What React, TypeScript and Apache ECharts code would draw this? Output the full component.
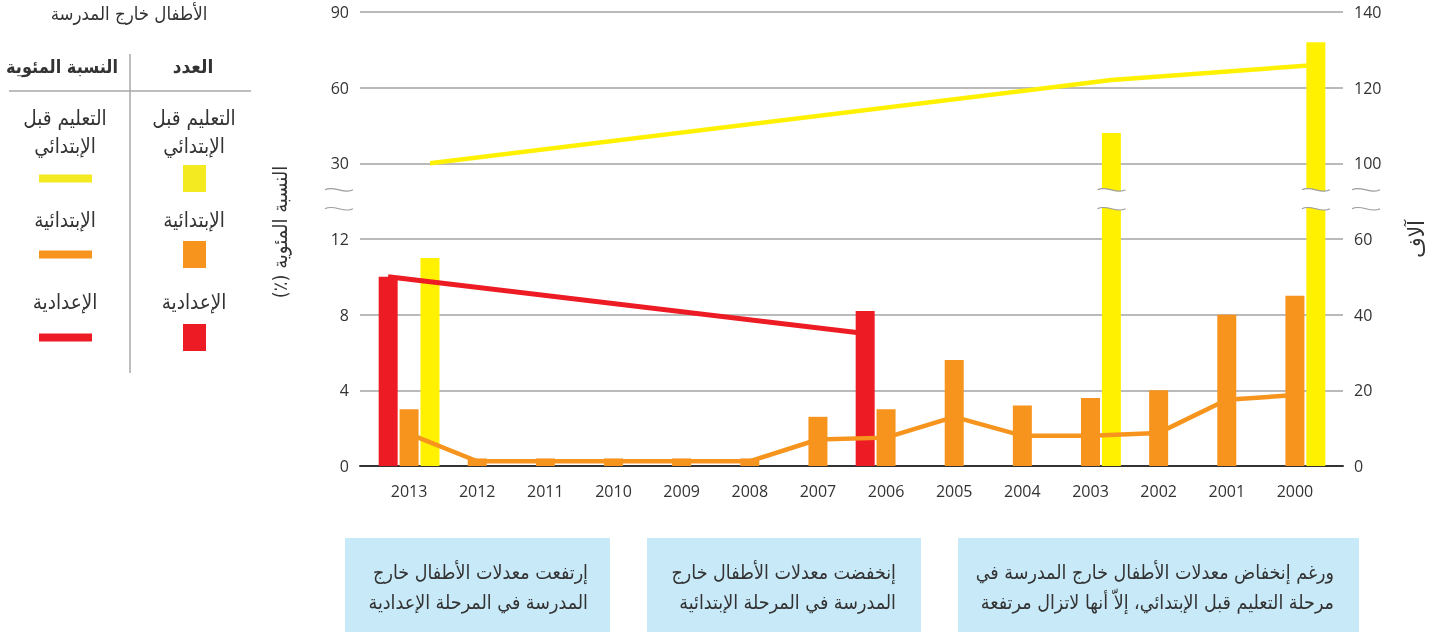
import React, { useEffect, useRef } from "react";
import * as echarts from "echarts";

// ---------- data ----------
const years = ["2013", "2012", "2011", "2010", "2009", "2008", "2007", "2006", "2005", "2004", "2003", "2002", "2001", "2000"];

// counts, thousands (bars, right axis)
const secondaryCount = [50, null, null, null, null, null, null, 41, null, null, null, null, null, null];
const primaryCount = [15, 2, 2, 2, 2, 2, 13, 15, 28, 16, 18, 20, 40, 45];
const prePrimaryCount = [55, null, null, null, null, null, null, null, null, null, 108, null, null, 132];

// rates, percent (lines, left axis)
const secondaryPct = [10, null, null, null, null, null, null, 7, null, null, null, null, null, null];
const primaryPct = [1.7, 0.25, 0.25, 0.25, 0.25, 0.25, 1.4, 1.5, 2.6, 1.6, 1.6, 1.75, 3.5, 3.75];
const prePrimaryPct = [30, null, null, null, null, null, null, null, null, null, 63, null, null, 69];

// tick labels for the broken axes
const leftTickLabels = ["0", "4", "8", "12", "30", "60", "90"];
const rightTickLabels = ["0", "20", "40", "60", "100", "120", "140"];

// texts
const legendTitle = "الأطفال خارج المدرسة";
const headerCount = "العدد";
const headerPct = "النسبة المئوية";
const levelNames = [["التعليم قبل", "الإبتدائي"], ["الإبتدائية"], ["الإعدادية"]];
const leftAxisName = "النسبة المئوية (٪)\u200F";
const rightAxisName = "آلاف";
const notes = [
  ["إرتفعت معدلات الأطفال خارج", "المدرسة في المرحلة الإعدادية"],
  ["إنخفضت معدلات الأطفال خارج", "المدرسة في المرحلة الإبتدائية"],
  ["ورغم إنخفاض معدلات الأطفال خارج المدرسة في", "مرحلة التعليم قبل الإبتدائي، إلاّ أنها لاتزال مرتفعة"],
];

// ---------- styles ----------
const RED = "#ED1C24";
const ORANGE = "#F7941E";
const YELLOW = "#FFF100";
const LEG_YELLOW = "#F4EA22";
const TEXT = "#333333";
const GRID = "#A3A3A3";
const BOX = "#C8E9F8";
const AR_FONT = "DejaVu Sans Condensed, DejaVu Sans, sans-serif";
const NUM_FONT = "Open Sans, Noto Sans, sans-serif";
const SLOT = 0.308; // bar slot offset in category units
const BREAK_TOP = 3.65;
const BREAK_BOTTOM = 3.4;

// piecewise mapping of the broken axes onto a 0..6 visual scale
const pctToVis = (v: number | null) => (v == null ? null : v <= 12 ? v / 4 : 4 + (v - 30) / 30);
const thouToVis = (v: number | null) => (v == null ? null : v <= 60 ? v / 20 : 4 + (v - 100) / 20);

const linePoints = (arr: (number | null)[], offset: number) =>
  arr.map((v, i) => (v == null ? null : [i + offset, pctToVis(v)])).filter((p) => p != null);

echarts.graphic.registerShape(
  "breakgap",
  echarts.graphic.extendPath("M0 0 C9 -5 19 5 28 0 L28 19 C19 24 9 14 0 19 Z", {})
);

export default function App() {
  const ref = useRef<HTMLDivElement>(null);
  useEffect(() => {
    if (!ref.current) return;
    const chart = echarts.init(ref.current, undefined, { renderer: "svg" });
    const gridTop = 12;
    const gridBottom = 170;
    const option: any = {
      animation: false,
      grid: [
        { left: 360, right: 99, top: gridTop, bottom: gridBottom, containLabel: false },
        { left: 375, right: 113, top: gridTop, bottom: gridBottom, containLabel: false },
      ],
      xAxis: [
        {
          gridIndex: 0, type: "value", min: 0, max: 1,
          axisLine: { show: true, onZero: false, lineStyle: { color: "#333", width: 2 } },
          axisTick: { show: false }, axisLabel: { show: false }, splitLine: { show: false },
        },
        {
          gridIndex: 1, type: "category", data: years,
          axisLine: { show: false }, axisTick: { show: false },
          axisLabel: { color: TEXT, fontSize: 16, fontFamily: NUM_FONT, margin: 17 },
        },
        {
          gridIndex: 1, type: "value", min: -0.5, max: 13.5, show: false,
        },
      ],
      yAxis: [
        {
          gridIndex: 0, type: "value", position: "left", min: 0, max: 6, interval: 1,
          axisLine: { show: false }, axisTick: { show: false },
          axisLabel: { color: TEXT, fontSize: 16, fontFamily: NUM_FONT, margin: 11,
            formatter: (v: number) => leftTickLabels[Math.round(v)] },
          splitLine: { show: true, lineStyle: { color: GRID, width: 1.5 } },
          name: leftAxisName, nameLocation: "middle", nameRotate: 90, nameGap: 70,
          nameTextStyle: { color: TEXT, fontSize: 20, fontFamily: AR_FONT, padding: [0, 0, 0, 14] },
        },
        {
          gridIndex: 0, type: "value", position: "right", min: 0, max: 6, interval: 1,
          axisLine: { show: false }, axisTick: { show: false },
          axisLabel: { color: TEXT, fontSize: 16, fontFamily: NUM_FONT, margin: 11,
            formatter: (v: number) => rightTickLabels[Math.round(v)] },
          splitLine: { show: false },
          name: rightAxisName, nameLocation: "middle", nameRotate: 90, nameGap: 62,
          nameTextStyle: { color: TEXT, fontSize: 22, fontFamily: AR_FONT },
        },
        { gridIndex: 1, type: "value", min: 0, max: 6, show: false, splitLine: { show: false } },
        { gridIndex: 1, type: "value", min: 0, max: 6, show: false, splitLine: { show: false } },
      ],
      series: [
        { type: "bar", name: levelNames[2][0], xAxisIndex: 1, yAxisIndex: 2, barWidth: 19, barGap: "10%",
          itemStyle: { color: RED }, data: secondaryCount.map(thouToVis), z: 2 },
        { type: "bar", name: levelNames[1][0], xAxisIndex: 1, yAxisIndex: 2, barWidth: 19, barGap: "10%",
          itemStyle: { color: ORANGE }, data: primaryCount.map(thouToVis), z: 2 },
        { type: "bar", name: levelNames[0].join(" "), xAxisIndex: 1, yAxisIndex: 2, barWidth: 19, barGap: "10%",
          itemStyle: { color: YELLOW }, data: prePrimaryCount.map(thouToVis), z: 2 },
        { type: "line", xAxisIndex: 2, yAxisIndex: 3, data: linePoints(secondaryPct, -SLOT), symbol: "none",
          lineStyle: { color: RED, width: 5 }, connectNulls: true, z: 4 },
        { type: "line", xAxisIndex: 2, yAxisIndex: 3, data: linePoints(primaryPct, 0), symbol: "none",
          lineStyle: { color: ORANGE, width: 4.5 }, connectNulls: true, z: 4 },
        { type: "line", xAxisIndex: 2, yAxisIndex: 3, data: linePoints(prePrimaryPct, SLOT), symbol: "none",
          lineStyle: { color: YELLOW, width: 4.5 }, connectNulls: true, z: 4 },
      ],
    };
    chart.setOption(option);

    // ---- graphics: break marks, legend panel, notes ----
    const g: any[] = [];
    const yTop = chart.convertToPixel({ yAxisIndex: 3 }, BREAK_TOP) as number;
    const yBot = chart.convertToPixel({ yAxisIndex: 3 }, BREAK_BOTTOM) as number;
    const tilde = (x: number, y: number) => ({
      type: "bezierCurve", z: 20,
      shape: { x1: x, y1: y, cpx1: x + 9, cpy1: y - 5, cpx2: x + 19, cpy2: y + 5, x2: x + 28, y2: y },
      style: { stroke: "#9C9C9C", lineWidth: 1.2, fill: null },
    });
    prePrimaryCount.forEach((v, i) => {
      if (v != null && v > 60) {
        const cx = chart.convertToPixel({ xAxisIndex: 2 }, i + SLOT) as number;
        g.push({ type: "breakgap", z: 19, x: cx - 14, y: yTop, scaleY: (yBot - yTop) / 19,
          style: { fill: "#ffffff", stroke: null } });
        g.push(tilde(cx - 14, yTop));
        g.push(tilde(cx - 14, yBot));
      }
    });
    const axL = chart.convertToPixel({ xAxisIndex: 0 }, 0) as number;
    const axR = chart.convertToPixel({ xAxisIndex: 0 }, 1) as number;
    [yTop, yBot].forEach((y) => {
      g.push(tilde(axL - 35, y));
      g.push(tilde(axR + 9, y));
    });

    const txt = (text: string, x: number, y: number, size: number, extra: any = {}) => ({
      type: "text", z: 30, x, y,
      style: { text, fill: TEXT, font: `${size}px ${AR_FONT}`, align: "center", verticalAlign: "middle", ...extra },
    });
    // legend panel
    g.push(txt(legendTitle, 129, 13, 18.5));
    g.push(txt(headerPct, 62, 66, 18, { font: `bold 18px ${AR_FONT}` }));
    g.push(txt(headerCount, 193, 66, 18, { font: `bold 19px ${AR_FONT}` }));
    g.push({ type: "line", z: 30, shape: { x1: 9, y1: 91, x2: 251, y2: 91 }, style: { stroke: "#A8A8A8", lineWidth: 1.5 } });
    g.push({ type: "line", z: 30, shape: { x1: 130, y1: 54, x2: 130, y2: 373 }, style: { stroke: "#A8A8A8", lineWidth: 1.5 } });
    const legColors = [LEG_YELLOW, ORANGE, RED];
    const rowTop = [118, 220, 302];
    levelNames.forEach((lines, k) => {
      lines.forEach((ln, j) => {
        g.push(txt(ln, 194, rowTop[k] + j * 28, 20.5));
        g.push(txt(ln, 65, rowTop[k] + j * 28, 20.5));
      });
      const markTop = [165, 241, 324][k];
      g.push({ type: "rect", z: 30, shape: { x: 183, y: markTop, width: 23, height: 27 }, style: { fill: legColors[k] } });
      g.push({ type: "rect", z: 30, shape: { x: 39, y: markTop + 9.5, width: 53, height: 8 }, style: { fill: legColors[k] } });
    });
    // note boxes
    const boxes = [
      { x: 345, w: 265, tx: 588 },
      { x: 647, w: 274, tx: 896 },
      { x: 958, w: 401, tx: 1334 },
    ];
    boxes.forEach((b, k) => {
      g.push({ type: "rect", z: 30, shape: { x: b.x, y: 538, width: b.w, height: 94 }, style: { fill: BOX } });
      notes[k].forEach((ln, j) => g.push(txt(ln, b.tx, 572 + j * 30, 19.5, { align: "right", z: 31 })));
    });

    chart.setOption({ graphic: { elements: g } });
    return () => chart.dispose();
  }, []);
  return <div ref={ref} style={{ position: "fixed", left: 0, top: 0, width: 1442, height: 636 }} />;
}
